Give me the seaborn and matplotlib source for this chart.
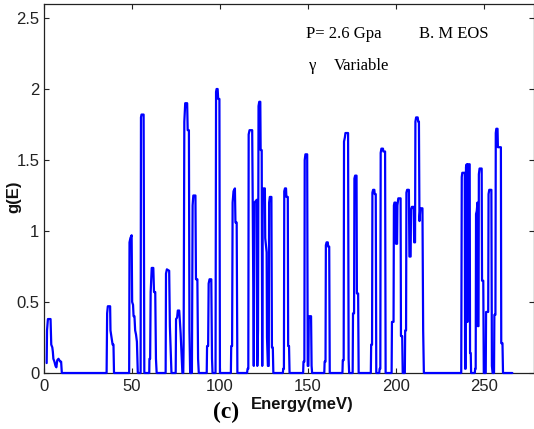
import matplotlib
matplotlib.use("Agg")
import matplotlib.pyplot as plt
import seaborn as sns
import pandas as pd

# ---- data ----
energy_meV = [
    1.8, 2.0, 2.5, 4.0, 4.4, 5.0, 5.3, 5.6, 6.2, 6.8, 7.3, 7.8, 8.5, 9.5, 10.0, 10.4,
    35.8, 36.1, 36.5, 37.8, 38.0, 38.6, 39.2, 39.7, 40.0,
    48.6, 48.8, 49.3, 50.0, 50.3, 50.8, 51.1, 51.6, 52.0, 52.5, 53.0, 53.5,
    55.1, 55.3, 55.6, 56.8, 57.2,
    60.0, 60.1, 60.5, 60.8, 61.4, 62.3, 62.7, 63.4, 63.8, 64.2,
    69.3, 69.5, 70.0, 71.3, 71.7, 72.3, 72.6,
    75.0, 75.2, 75.8, 76.2, 77.0, 77.3, 77.8, 78.3, 78.8,
    79.3, 79.5, 79.9, 80.4, 81.5, 81.8, 82.5, 82.8, 83.2,
    84.2, 84.6, 85.0, 86.2, 86.5, 87.3, 87.7, 88.1,
    92.6, 92.8, 93.4, 93.7, 94.2, 95.2, 95.6, 95.9,
    97.6, 97.9, 98.2, 98.8, 99.1, 99.8, 100.1,
    106.3, 106.5, 107.0, 107.3, 107.8, 108.6, 108.9, 109.6, 110.0,
    115.5, 115.8, 116.2, 116.4, 116.9, 118.4, 118.7, 119.3, 119.7, 121.0, 121.3,
    121.7, 122.0, 122.4, 123.0, 123.2, 123.8, 124.1, 124.4, 124.8, 125.6, 125.8,
    126.6, 126.8, 127.3, 127.8, 128.0, 128.4, 129.3, 129.6, 130.1, 130.4,
    135.8, 136.0, 136.4, 136.6, 137.0, 137.6, 137.8, 138.6, 138.8, 139.3, 139.6,
    147.3, 147.5, 148.0, 148.2, 148.6, 149.6, 149.9, 150.3, 150.5, 150.9, 151.8, 152.1, 152.4,
    159.3, 159.5, 160.0, 160.2, 160.6, 161.3, 161.5, 162.1, 162.4,
    169.6, 169.8, 170.3, 170.5, 171.0, 171.3, 172.8, 173.1, 173.4,
    175.4, 175.6, 176.2, 176.4, 176.8, 177.6, 177.8, 178.5, 178.8,
    185.7, 185.9, 186.4, 186.6, 187.0, 187.7, 187.9, 188.5, 188.8,
    190.5, 190.7, 191.1, 191.3, 191.7, 192.6, 192.8, 193.8, 194.1,
    197.5, 197.7, 198.6, 198.8, 199.1, 199.8, 200.0, 200.6, 200.8, 201.3, 202.6, 202.8, 203.5, 203.8,
    205.0, 205.2, 205.7, 205.9, 206.3, 207.3, 207.6, 208.3, 208.5, 209.0, 210.0, 210.3, 210.8,
    211.0, 211.4, 212.3, 212.6, 213.0, 213.3, 213.8, 215.0, 215.4, 215.8,
    237.0, 237.3, 237.6, 239.0, 239.2, 239.5, 239.7, 240.1, 240.3, 240.6, 240.8, 241.8, 242.0, 242.4, 242.6,
    244.7, 244.9, 245.2, 245.4, 245.8, 246.2, 246.4, 246.8, 247.0, 247.4, 248.6, 248.8, 249.5, 249.8,
    250.9, 251.1, 252.3, 252.5, 252.9, 254.1, 254.4, 254.8,
    255.6, 255.8, 256.4, 256.6, 256.9, 257.6, 257.8, 259.5, 259.7, 260.4, 260.7,
    266.0,
]
g_E = [
    0.07, 0.30, 0.38, 0.38, 0.20, 0.18, 0.15, 0.10, 0.08, 0.05, 0.04, 0.09, 0.10, 0.08, 0.08, 0.0,
    0.0, 0.42, 0.47, 0.47, 0.30, 0.25, 0.20, 0.20, 0.0,
    0.0, 0.92, 0.95, 0.97, 0.50, 0.48, 0.40, 0.40, 0.30, 0.27, 0.22, 0.0,
    0.0, 1.80, 1.82, 1.82, 0.0,
    0.0, 0.10, 0.10, 0.57, 0.74, 0.74, 0.57, 0.57, 0.10, 0.0,
    0.0, 0.70, 0.73, 0.72, 0.33, 0.10, 0.0,
    0.0, 0.38, 0.39, 0.44, 0.44, 0.38, 0.28, 0.14, 0.0,
    0.0, 0.20, 1.77, 1.90, 1.90, 1.71, 1.71, 0.30, 0.0,
    0.0, 1.18, 1.25, 1.25, 0.66, 0.66, 0.10, 0.0,
    0.0, 0.19, 0.19, 0.63, 0.66, 0.66, 0.10, 0.0,
    0.0, 1.98, 2.00, 2.00, 1.93, 1.93, 0.0,
    0.0, 0.19, 0.19, 1.20, 1.28, 1.30, 1.06, 1.06, 0.0,
    0.0, 0.03, 0.03, 1.68, 1.71, 1.71, 1.20, 0.05, 1.20, 1.22, 0.05,
    0.30, 1.88, 1.91, 1.91, 1.57, 1.57, 0.05, 1.28, 1.30, 1.30, 0.95,
    0.85, 0.25, 0.05, 0.05, 1.20, 1.24, 1.24, 0.18, 0.18, 0.0,
    0.0, 0.03, 0.03, 1.28, 1.30, 1.30, 1.24, 1.24, 0.19, 0.19, 0.0,
    0.0, 0.08, 0.08, 1.50, 1.54, 1.54, 0.05, 0.05, 0.38, 0.40, 0.40, 0.05, 0.0,
    0.0, 0.08, 0.08, 0.90, 0.92, 0.92, 0.89, 0.89, 0.0,
    0.0, 0.09, 0.09, 1.63, 1.66, 1.69, 1.69, 0.10, 0.0,
    0.0, 0.42, 0.42, 1.37, 1.39, 1.39, 0.56, 0.56, 0.0,
    0.0, 0.20, 0.20, 1.27, 1.29, 1.29, 1.26, 1.26, 0.0,
    0.0, 0.03, 0.03, 1.55, 1.58, 1.58, 1.56, 1.56, 0.0,
    0.0, 0.36, 0.36, 1.18, 1.20, 1.20, 0.91, 0.91, 1.18, 1.23, 1.23, 0.26, 0.26, 0.0,
    0.0, 0.30, 0.30, 1.27, 1.29, 1.29, 0.82, 0.82, 1.15, 1.17, 1.17, 0.92, 0.92,
    1.77, 1.80, 1.80, 1.77, 1.77, 1.07, 1.16, 1.16, 0.30, 0.0,
    0.0, 1.38, 1.41, 1.41, 0.03, 0.03, 1.45, 1.47, 0.36, 0.36, 1.47, 1.47, 0.14, 0.14, 0.0,
    0.0, 0.03, 0.03, 1.12, 1.14, 1.20, 0.33, 0.33, 1.40, 1.44, 1.44, 0.65, 0.65, 0.0,
    0.0, 0.43, 0.43, 1.26, 1.29, 1.29, 0.05, 0.0,
    0.0, 0.41, 0.41, 1.69, 1.72, 1.72, 1.59, 1.59, 0.21, 0.21, 0.0,
    0.0,
]
x_ticks = [0, 50, 100, 150, 200, 250]
y_ticks = [0, 0.5, 1, 1.5, 2, 2.5]
y_tick_labels = ["0", "0.5", "1", "1.5", "2", "2.5"]
x_label = "Energy(meV)"
y_label = "g(E)"
panel_label = "(c)"
note_pressure = "P= 2.6 Gpa"
note_eos = "B. M EOS"
note_gamma = "\u03b3"
note_variable = "Variable"

df = pd.DataFrame({"E": energy_meV, "g": g_E})

sns.set_style("ticks")
plt.rcParams["font.family"] = ["Liberation Sans", "DejaVu Sans"]

W, H = 534, 429
fig = plt.figure(figsize=(W / 100, H / 100), dpi=100)
left_px, right_px, top_px, bottom_px = 43.5, 533.5, 3.8, 373.0
ax = fig.add_axes([left_px / W, 1 - bottom_px / H,
                   (right_px - left_px) / W, (bottom_px - top_px) / H])

sns.lineplot(data=df, x="E", y="g", ax=ax, estimator=None, sort=False,
             color="#0000FF", linewidth=1.6)
for ln in ax.lines:
    ln.set_clip_on(False)
    ln.set_zorder(3)

ax.set_xlim(0, 278)
ax.set_ylim(0, 2.6)
ax.set_xticks(x_ticks)
ax.set_xticklabels([str(t) for t in x_ticks])
ax.set_yticks(y_ticks)
ax.set_yticklabels(y_tick_labels)
ax.set_xlabel("")
ax.set_ylabel("")
ax.tick_params(direction="in", length=3.6, width=0.8, top=True, right=True,
               labelsize=12, colors="#222222", labelcolor="#222222", pad=4)
ax.tick_params(axis="y", pad=3)
for s in ax.spines.values():
    s.set_visible(True)
    s.set_color("#222222")
    s.set_linewidth(0.9)
ax.set_facecolor("white")

def fx(px):
    return px / W

def fy(py):
    return 1 - py / H

fig.text(fx(302.5), fy(405), x_label, ha="center", va="center",
         fontsize=12, fontweight="bold", color="#111111")
fig.text(fx(14), fy(197), y_label, ha="center", va="center", rotation=90,
         fontsize=12, fontweight="bold", color="#111111")
fig.text(fx(226), fy(418), panel_label, ha="center", va="baseline",
         fontsize=17, fontweight="bold", family="Liberation Serif", color="black")
fig.text(fx(306), fy(37.5), note_pressure, ha="left", va="baseline",
         fontsize=12, family="Liberation Serif", color="black")
fig.text(fx(419), fy(37.5), note_eos, ha="left", va="baseline",
         fontsize=12, family="Liberation Serif", color="black")
fig.text(fx(309), fy(69.5), note_gamma, ha="left", va="baseline",
         fontsize=12, family="Liberation Serif", color="black")
fig.text(fx(334), fy(69.5), note_variable, ha="left", va="baseline",
         fontsize=12, family="Liberation Serif", color="black")

fig.savefig("out.png", dpi=100, facecolor="white")
